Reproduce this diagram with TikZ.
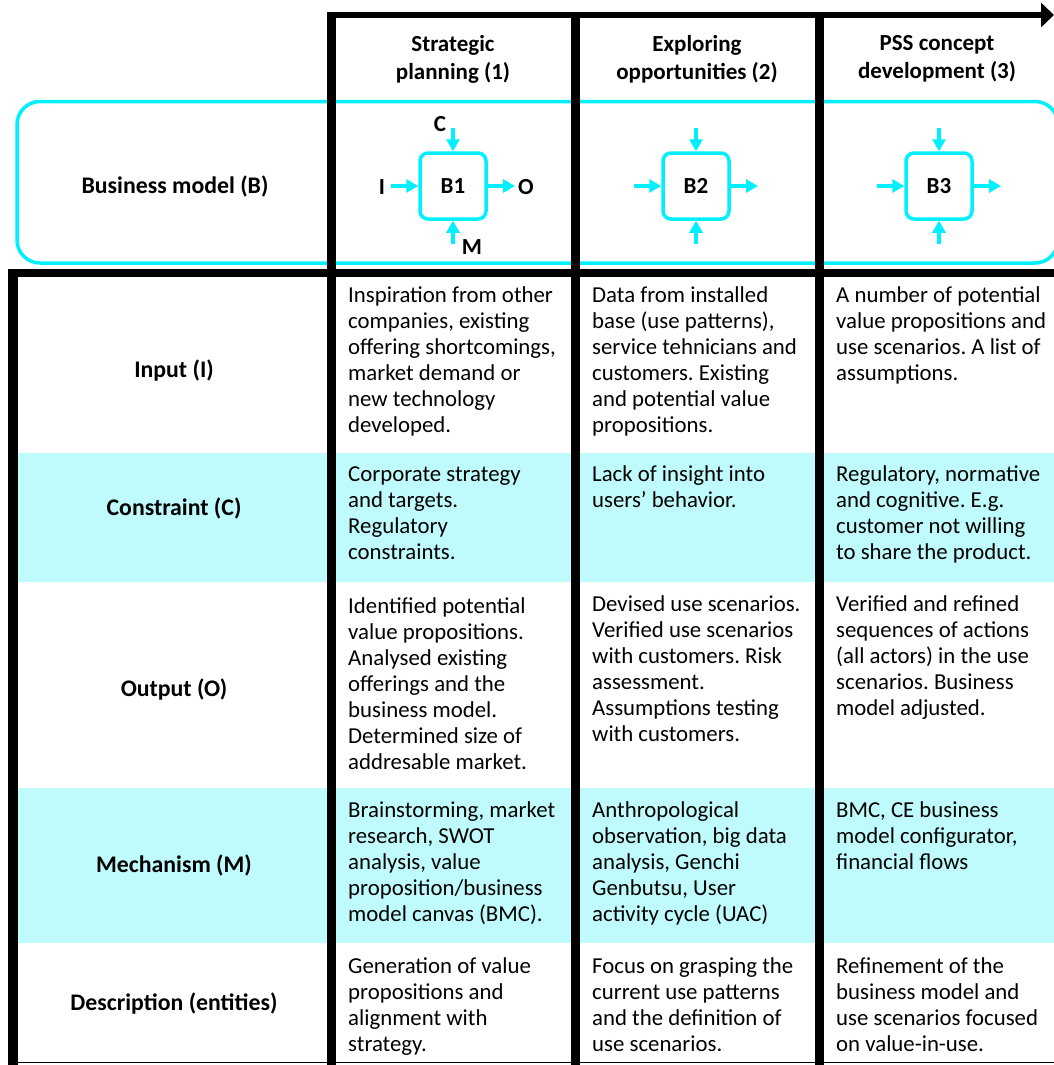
\documentclass[tikz,border=0pt]{standalone}
\usepackage{fontspec}
\setmainfont{Carlito}
\usetikzlibrary{arrows.meta}
\definecolor{flow}{RGB}{0,240,255}
\definecolor{rowshade}{RGB}{191,251,252}
\frenchspacing
\begin{document}
% cells are anchored on the baseline of their last line
\begin{tikzpicture}[x=1pt,y=-1pt,
  cell/.style={anchor=base west, align=left, inner sep=0pt,
    font=\fontsize{22.8}{26}\selectfont},
  rowlabel/.style={inner sep=0pt, font=\bfseries\fontsize{23.8}{26}\selectfont},
  header/.style={align=center, inner sep=0pt, font=\bfseries\fontsize{23}{28}\selectfont},
  bbox/.style={draw=flow, line width=3.5pt, rounded corners=8pt,
    minimum width=66pt, minimum height=66pt, inner sep=0pt,
    font=\bfseries\fontsize{23}{26}\selectfont},
  flowarrow/.style={draw=flow, line width=3.5pt, -{Triangle[length=12pt,width=13pt]}},
  iolabel/.style={inner sep=0pt, font=\bfseries\fontsize{23}{26}\selectfont},
  rule/.style={draw=black, line width=#1},
]
\useasboundingbox (0,0) rectangle (1054,1065);
\clip (0,0) rectangle (1054,1065);

% shaded rows
\fill[rowshade] (18,453) rectangle (1054,582);
\fill[rowshade] (18,788) rectangle (1054,943);

% business model band
\draw[flow, line width=3.5pt, rounded corners=23pt] (17,101.5) rectangle (1058,263);

% phase arrow and column rules
\draw[rule=6.5pt, -{Triangle[length=13pt,width=24pt]}] (327,15) -- (1054,15);
\draw[rule=9pt] (331,11.75) -- (331,1065);
\draw[rule=9pt] (575,15) -- (575,1065);
\draw[rule=9pt] (819,15) -- (819,1065);

% table frame
\draw[rule=8pt] (8,273) -- (1054,273);
\draw[rule=10pt] (13,269) -- (13,1065);
\draw[rule=1.5pt] (8,1062.5) -- (1054,1062.5);

% phase headers
\node[header] (h1) at (453,59) {Strategic\\planning (1)};
\node[header] (h2) at (697,59) {Exploring\\opportunities (2)};
\node[header] (h3) at (937,59) {PSS concept\\development (3)};

% row labels
\node[rowlabel] (lB) at (175,186) {Business model (B)};
\node[rowlabel] (lI) at (174,371) {Input (I)};
\node[rowlabel] (lC) at (174,508) {Constraint (C)};
\node[rowlabel] (lO) at (174,690) {Output (O)};
\node[rowlabel] (lM) at (174,865) {Mechanism (M)};
\node[rowlabel] (lD) at (174,1004) {Description (entities)};

% activity boxes with their ICOM arrows
\node[bbox] (b1) at (453,186) {B1};
\node[bbox] (b2) at (696,186) {B2};
\node[bbox] (b3) at (939,186) {B3};
\foreach \b/\x in {b1/453, b2/696, b3/939} {
  \coordinate (\b-in)  at (\x-62,186);
  \coordinate (\b-out) at (\x+62,186);
  \coordinate (\b-con) at (\x,128);
  \coordinate (\b-mec) at (\x,244);
  \draw[flowarrow] (\b-in) -- (\b.west);
  \draw[flowarrow] (\b.east) -- (\b-out);
  \draw[flowarrow] (\b-con) -- (\b.north);
  \draw[flowarrow] (\b-mec) -- (\b.south);
}
\node[iolabel] (tC) at (440,124) {C};
\node[iolabel] (tI) at (382,187) {I};
\node[iolabel] (tO) at (526,187) {O};
\node[iolabel] (tM) at (472,247) {M};

% column 1: strategic planning
\node[cell] (c1i) at (348,432) {Inspiration from other\\companies, existing\\offering shortcomings,\\market demand or\\new technology\\developed.};
\node[cell] (c1c) at (348,559) {Corporate strategy\\and targets.\\Regulatory\\constraints.};
\node[cell] (c1o) at (348,769) {Identified potential\\value propositions.\\Analysed existing\\offerings and the\\business model.\\Determined size of\\addresable market.};
\node[cell] (c1m) at (348,921) {Brainstorming, market\\research, SWOT\\analysis, value\\proposition/business\\model canvas (BMC).};
\node[cell] (c1d) at (348,1051) {Generation of value\\propositions and\\alignment with\\strategy.};

% column 2: exploring opportunities
\node[cell] (c2i) at (592,432) {Data from installed\\base (use patterns),\\service tehnicians and\\customers. Existing\\and potential value\\propositions.};
\node[cell] (c2c) at (592,507) {Lack of insight into\\users’ behavior.};
\node[cell] (c2o) at (592,741) {Devised use scenarios.\\Verified use scenarios\\with customers. Risk\\assessment.\\Assumptions testing\\with customers.};
\node[cell] (c2m) at (592,921) {Anthropological\\observation, big data\\analysis, Genchi\\Genbutsu, User\\activity cycle (UAC)};
\node[cell] (c2d) at (592,1051) {Focus on grasping the\\current use patterns\\and the definition of\\use scenarios.};

% column 3: PSS concept development
\node[cell] (c3i) at (836,380) {A number of potential\\value propositions and\\use scenarios. A list of\\assumptions.};
\node[cell] (c3c) at (836,559) {Regulatory, normative\\and cognitive. E.g.\\customer not willing\\to share the product.};
\node[cell] (c3o) at (836,715) {Verified and refined\\sequences of actions\\(all actors) in the use\\scenarios. Business\\model adjusted.};
\node[cell] (c3m) at (836,869) {BMC, CE business\\model configurator,\\financial flows};
\node[cell] (c3d) at (836,1051) {Refinement of the\\business model and\\use scenarios focused\\on value-in-use.};
\end{tikzpicture}
\end{document}
